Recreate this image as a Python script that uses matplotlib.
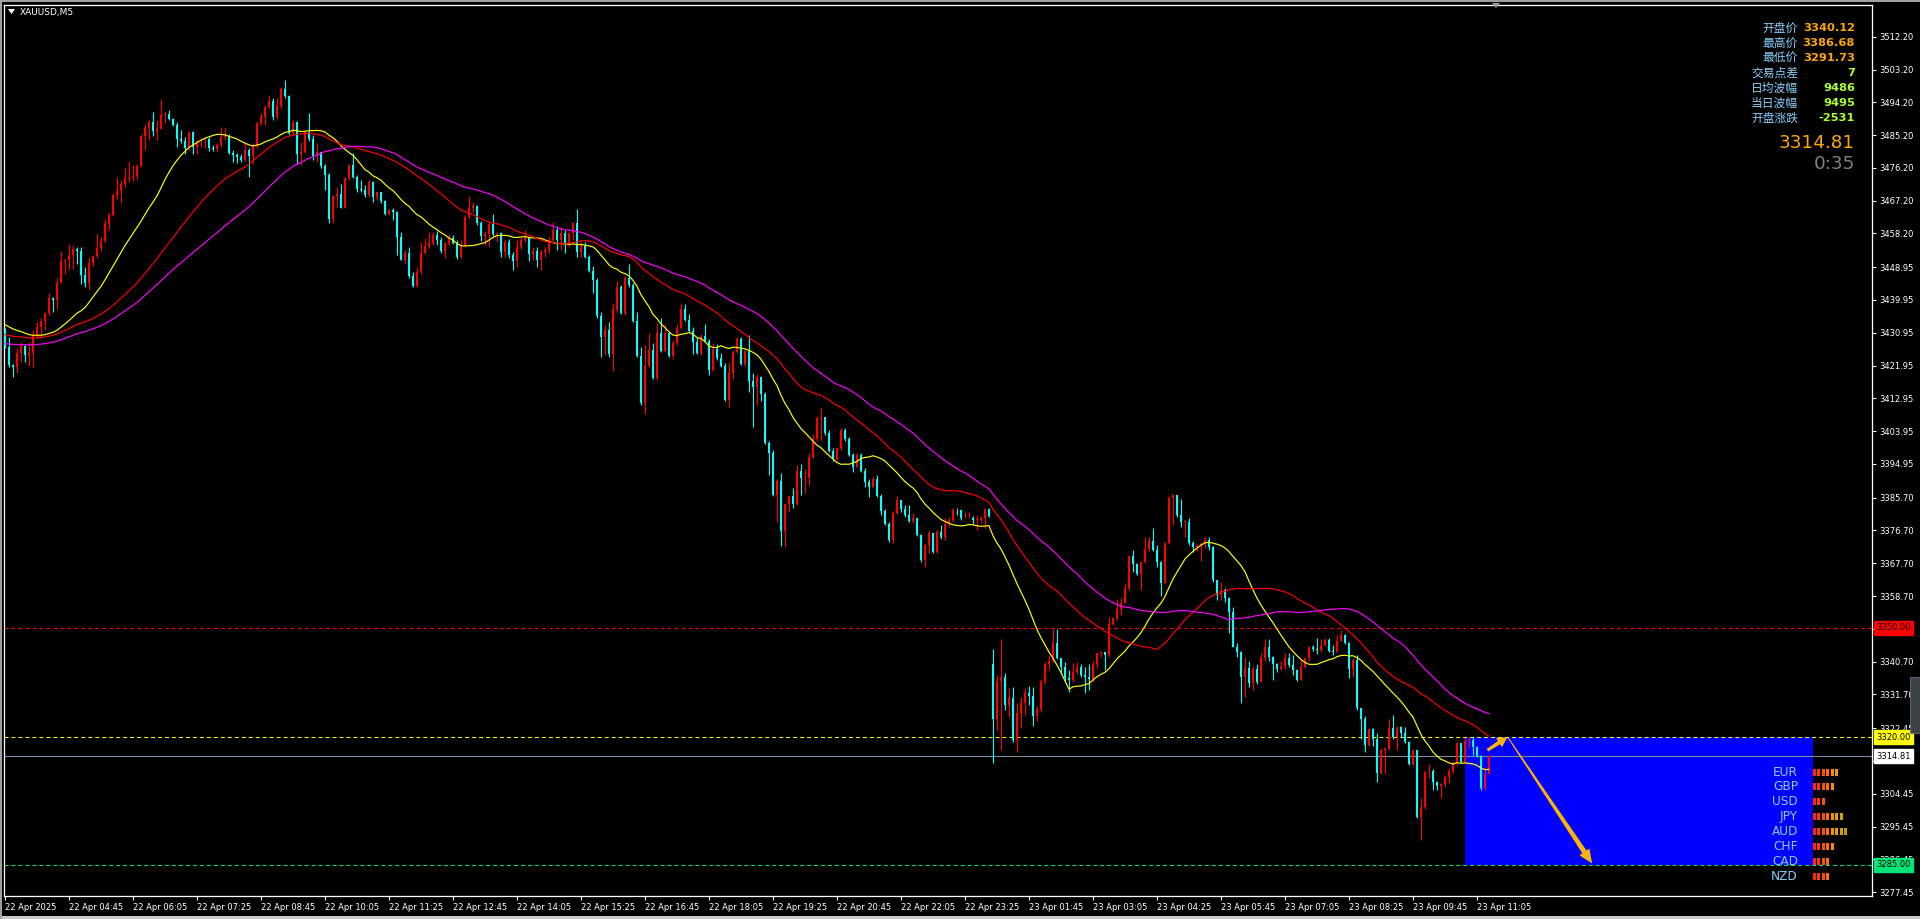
import numpy as np
import matplotlib
matplotlib.use('Agg')
import matplotlib.pyplot as plt
from matplotlib.patches import Rectangle, Polygon
from matplotlib.transforms import IdentityTransform, blended_transform_factory

W, H = 1920, 919

# ---------------- data ----------------
symbol = 'XAUUSD,M5'
first_open = 3431.5
gap_bar = 247          # first bar of the 23 Apr session (gap down)
gap_open = 3340.1

closes = [
    3427, 3422.1, 3421.5, 3425.3, 3427.4, 3424.8, 3425.5, 3430.3, 3432.6, 3434.2,
    3436.3, 3440.4, 3440, 3444.7, 3450.6, 3450.8, 3452.3, 3453.9, 3453.5, 3446.8,
    3444.5, 3450.2, 3452, 3454.1, 3456.2, 3460.8, 3463.3, 3468.7, 3469.8, 3471.7,
    3473.5, 3473.6, 3474, 3476.7, 3485, 3487.1, 3488.9, 3486.3, 3487, 3490.7,
    3491, 3489.5, 3488.1, 3484, 3483.7, 3481.7, 3486, 3482, 3483.5, 3483.9,
    3484.2, 3481.6, 3481.4, 3482.5, 3484.6, 3484.8, 3480.4, 3479.7, 3479.3, 3478.3,
    3481, 3479.5, 3482.5, 3488.4, 3490.1, 3493, 3494.6, 3490.1, 3493.3, 3497.9,
    3495.8, 3485.7, 3488.9, 3479.9, 3480.6, 3486.1, 3484, 3479.5, 3480.5, 3476.6,
    3474.2, 3462.1, 3468.5, 3469, 3465.3, 3473.3, 3477, 3473.8, 3470.3, 3470.1,
    3468.8, 3472.4, 3468.3, 3469.7, 3467, 3463.6, 3464.6, 3464.2, 3457.1, 3450.9,
    3452.9, 3446.5, 3443.8, 3447.7, 3452.9, 3454.7, 3455.7, 3457.8, 3456.4, 3453.5,
    3455.5, 3456.9, 3455.7, 3451.8, 3454.7, 3462.8, 3465.1, 3465.7, 3461.2, 3457.5,
    3458, 3460.7, 3458, 3458.2,
    3453.2, 3455.9, 3452.3, 3450.7, 3454.6, 3456.4, 3457, 3452.7, 3453.4, 3451,
    3453.2, 3453.7, 3456.4, 3459.2, 3456.4, 3458.4, 3455.3, 3458.2, 3461.2, 3453.2,
    3455, 3451.8, 3447.9, 3445.4, 3435.6, 3429.9, 3431.7, 3425.1, 3437.2, 3443.6,
    3436.3, 3445.9, 3444.1, 3434.2, 3424.6, 3411.6, 3421.8, 3426.2, 3418.5, 3430.8,
    3425.9, 3430.8, 3424.6, 3428.1, 3432.4, 3437.6, 3434.5, 3431.5, 3428.5, 3425.3,
    3430, 3428.8, 3420.7, 3426.4, 3424, 3421.8, 3412.5, 3420, 3425.8, 3429.2,
    3422.4, 3425.9, 3417.8, 3416.2, 3418.7, 3414.1, 3400.6, 3397.9, 3386.4, 3390.4,
    3376.6, 3384.1, 3386.2, 3383.9, 3393.1, 3391, 3391, 3396.9, 3401.7, 3407.5,
    3407.8, 3403.5, 3398.6, 3396.2, 3399.2, 3404.4, 3401.7, 3397.4, 3394.2, 3397.4,
    3393.1, 3390.1, 3388.7, 3390.7, 3386.1, 3382.1, 3378.5, 3374.1, 3381.6, 3385,
    3382.5, 3380.9, 3379.4, 3380, 3375.4, 3368.6, 3372.7, 3376.1, 3370.8, 3376.4,
    3374.8, 3378.6, 3379.5, 3382.4, 3382.2, 3380, 3380, 3380.2, 3379.6, 3379.6,
    3380, 3382.5, 3380.8,
    3324.9, 3335.5, 3336.4, 3328.8, 3330.6, 3319.2, 3326.5, 3329.3, 3332, 3331.3,
    3325.8, 3327.6, 3335.2, 3340.1, 3341, 3345.9, 3341.6, 3339.3, 3336.1, 3335.8,
    3338, 3339.3, 3337, 3336.6, 3336, 3340.1, 3343, 3343.3, 3342.5, 3351,
    3352.6, 3355.1, 3356.9, 3360.8, 3369.7, 3367.5, 3364.8, 3368.1, 3371.5, 3373.9,
    3371.3, 3368.1, 3362.2, 3373.2, 3385.5, 3386.4, 3381, 3379.1, 3379.1, 3373.2,
    3372.1, 3372.8, 3373.1, 3374, 3372.1, 3363.1, 3359, 3360.5, 3358.1, 3354.4,
    3344.8, 3343.4, 3336.4, 3338.9, 3334.8, 3338.6, 3335, 3341.6, 3344.6, 3342.1,
    3340, 3338.7, 3339.5, 3341.6, 3339.8, 3338.4, 3335.8, 3339.3, 3341.6, 3344.8,
    3344.3, 3343.9, 3345.3, 3346.6, 3343.7, 3343.4, 3346.5, 3348, 3345.7, 3338.6,
    3341.1, 3327.9, 3325.1, 3317.8, 3322.1, 3319.4, 3310.2, 3316.6, 3316.9, 3322.4,
    3320.1, 3322.7, 3321, 3318.7, 3312.6, 3316.4, 3298, 3300.7, 3310.5, 3310.8,
    3307.8, 3306.6, 3307.1, 3309.1, 3310.8, 3312.8, 3318.3, 3313.2, 3319, 3319.2,
    3317.4, 3314.9, 3305.9, 3310, 3314.81,
]

highs = [
    3432.2, 3429.9, 3422.5, 3426.7, 3428.5, 3427.6, 3428.5, 3431.7, 3434, 3434.9,
    3436.7, 3441.8, 3440.8, 3445.9, 3453.3, 3451.1, 3455.2, 3455, 3454.6, 3454.6,
    3449.1, 3451.8, 3452.3, 3458.1, 3457.3, 3462.1, 3463.7, 3469.2, 3473.6, 3472.9,
    3476.1, 3478.2, 3477, 3477.4, 3485.5, 3488.2, 3489.3, 3491.6, 3489.3, 3495.1,
    3491.8, 3492.1, 3489.8, 3488.9, 3486.6, 3484.8, 3486.4, 3486.4, 3483.8, 3484.5,
    3484.3, 3484.6, 3482.5, 3482.9, 3487.5, 3487.1, 3485.5, 3481.1, 3480.2, 3480,
    3482.9, 3481.6, 3483, 3488.9, 3491.2, 3493.5, 3496.2, 3495.3, 3495.3, 3498.5,
    3500.3, 3496.2, 3489.3, 3489.2, 3483.4, 3486.4, 3491.3, 3485.2, 3483.1, 3480.2,
    3477.3, 3474.9, 3468.7, 3471, 3471.8, 3473.8, 3477.4, 3480.4, 3474.2, 3472.9,
    3471.5, 3472.9, 3472.7, 3469.9, 3469.7, 3467.4, 3464.8, 3465.1, 3464.5, 3458.7,
    3453.7, 3454.6, 3447.7, 3449.1, 3455.9, 3456.9, 3458.7, 3458.7, 3458.9, 3457.3,
    3455.9, 3457.8, 3457.8, 3456.4, 3456.4, 3463.3, 3468.5, 3466.9, 3466, 3461.7,
    3458.9, 3461.4, 3463.5, 3458.7,
    3458.7, 3456.4, 3456.6, 3453.2, 3456.4, 3457.3, 3459.2, 3457.3, 3454.4, 3454.4,
    3453.7, 3454.6, 3457.3, 3461.4, 3460.3, 3460.1, 3459.2, 3458.7, 3461.4, 3464.9,
    3455.9, 3455.9, 3452.3, 3449.3, 3445.9, 3436.7, 3433.1, 3434, 3439, 3445.2,
    3444.1, 3446.5, 3449.8, 3444.5, 3436.7, 3427.1, 3427.6, 3430.8, 3428.1, 3433.7,
    3435.1, 3433.5, 3431.2, 3429, 3433.5, 3439, 3438.8, 3436.1, 3432.6, 3429.9,
    3430.6, 3433.4, 3429.2, 3428.1, 3427.9, 3425.5, 3422.6, 3422.6, 3426.2, 3429.9,
    3429.9, 3426.2, 3430.4, 3420, 3419.6, 3418.9, 3414.8, 3401.3, 3398.8, 3390.7,
    3392.4, 3384.3, 3386.4, 3388.3, 3394.6, 3394.9, 3393.7, 3397.9, 3403.2, 3408.1,
    3410.2, 3407.9, 3404.3, 3399.2, 3399.5, 3404.7, 3404.7, 3402.4, 3398, 3397.9,
    3397.9, 3393.8, 3390.7, 3391.5, 3391.9, 3386.7, 3382.5, 3379.1, 3382.1, 3386.1,
    3385.1, 3383.7, 3383.7, 3381.6, 3380.1, 3375.7, 3373.1, 3376.8, 3375.4, 3376.8,
    3378.2, 3380, 3380.5, 3382.8, 3382.8, 3382.3, 3381.8, 3381.8, 3380.7, 3380.9,
    3380.7, 3382.8, 3382.8,
    3344.3, 3337, 3347, 3337.5, 3333.6, 3333.8, 3329.3, 3331.1, 3333.4, 3334,
    3333.8, 3328.5, 3336, 3340.7, 3342.4, 3349.8, 3349.6, 3341.6, 3340.5, 3338.4,
    3340.4, 3340.7, 3340.2, 3339.3, 3340, 3341, 3343.2, 3343.6, 3343.4, 3353,
    3353, 3357.8, 3358.1, 3362.2, 3370, 3371.3, 3367.7, 3368.4, 3374.8, 3375,
    3377.3, 3372.7, 3368.4, 3373.6, 3386.3, 3386.68, 3386.4, 3385.3, 3379.5, 3380,
    3373.9, 3373, 3373.5, 3375, 3375, 3372.4, 3363.1, 3362.6, 3361, 3358.5,
    3355.6, 3345.7, 3343.6, 3342.1, 3341, 3339.5, 3340, 3343.2, 3346.8, 3346.8,
    3342.3, 3340.4, 3341, 3343.2, 3343, 3342.5, 3338.7, 3341.1, 3342.1, 3345,
    3345.4, 3347.1, 3346.8, 3347.1, 3347.2, 3345.3, 3348, 3349.4, 3348.4, 3346,
    3341.6, 3342.6, 3327.9, 3325.8, 3322.1, 3322.4, 3321, 3316.9, 3317, 3325.1,
    3326, 3322.9, 3323, 3322.8, 3319, 3316.5, 3316.5, 3303.2, 3310.7, 3312.6,
    3311.2, 3308, 3307.5, 3309.6, 3311.4, 3313.5, 3318.7, 3318.5, 3319.7, 3319.9,
    3319.9, 3317.6, 3315.2, 3311.9, 3315.3,
]

lows = [
    3426.7, 3421.6, 3418.7, 3419.8, 3423, 3423, 3421.8, 3421.6, 3429.4, 3429.4,
    3431.7, 3435.8, 3436.7, 3437.6, 3444.5, 3447.2, 3448.2, 3448.5, 3449.8, 3444.3,
    3443.6, 3442.7, 3449.4, 3451.6, 3453.5, 3455.9, 3459.1, 3463, 3467.8, 3466.5,
    3471, 3472.4, 3472.7, 3472.9, 3476.5, 3481.1, 3483.8, 3485, 3483.8, 3486.9,
    3488.4, 3489.3, 3487.8, 3482, 3483, 3479.9, 3481.1, 3479.9, 3480, 3481.8,
    3481.6, 3480.9, 3480.9, 3480.6, 3482, 3483.8, 3479.9, 3477.9, 3477.6, 3477.9,
    3478.2, 3473.8, 3477.4, 3481.6, 3488, 3488, 3492.5, 3489.3, 3489.5, 3492.5,
    3495.3, 3485.2, 3485.2, 3477.4, 3477, 3480.2, 3483.6, 3478.4, 3477.9, 3476.1,
    3470.1, 3461, 3461.2, 3465.6, 3465.1, 3465.1, 3472.9, 3473.3, 3469.7, 3469.7,
    3468.3, 3468.3, 3466.9, 3467.4, 3466.5, 3463.3, 3463.3, 3461.9, 3452.3, 3450.9,
    3450, 3445.9, 3443.4, 3443.6, 3447.2, 3452.7, 3454.1, 3455, 3455, 3452.9,
    3451.6, 3455, 3455.3, 3451.1, 3451.6, 3454.4, 3462.3, 3464.2, 3460.5, 3456.2,
    3455, 3454.6, 3457.6, 3455.9,
    3451.8, 3451.8, 3451.4, 3448.2, 3449.1, 3453.9, 3455.9, 3450.7, 3450.9, 3449.1,
    3448.2, 3451.8, 3452.9, 3455.9, 3453.7, 3453.7, 3452.8, 3454.6, 3456.4, 3451.7,
    3451.8, 3451.4, 3447.5, 3441.8, 3434.9, 3424.4, 3424.9, 3424.4, 3420.6, 3436.7,
    3436.1, 3435.8, 3443.6, 3434, 3424.4, 3411.1, 3408.8, 3421.5, 3418.2, 3418,
    3425.8, 3425.8, 3424.4, 3423.7, 3427.6, 3431.9, 3434.3, 3431.2, 3425.1, 3425.1,
    3424.9, 3428.5, 3419.4, 3420.6, 3423.5, 3421.6, 3412.1, 3410.5, 3418.2, 3425.3,
    3422.1, 3421.8, 3414.8, 3405, 3411.1, 3412.3, 3400.4, 3391.9, 3386.1, 3379.1,
    3372.5, 3372.2, 3381.9, 3382.8, 3383.7, 3386.4, 3387.1, 3389.2, 3396.5, 3401.3,
    3401.5, 3402.9, 3398.3, 3395.8, 3396, 3398.8, 3401.3, 3397.1, 3392.8, 3394,
    3392.8, 3388.7, 3386, 3388.3, 3386, 3380.9, 3378.2, 3373.6, 3373.4, 3381.2,
    3381.8, 3380.5, 3379.1, 3378.8, 3375.2, 3368.1, 3366.7, 3370.4, 3370.6, 3370.4,
    3374.5, 3374, 3377.7, 3379.1, 3380.9, 3379.6, 3380, 3380, 3378.6, 3376.8,
    3379.1, 3377.5, 3380.5,
    3312.8, 3322, 3316.4, 3327.5, 3325.5, 3318.7, 3316, 3322.4, 3326.1, 3328.8,
    3323, 3324.5, 3327, 3334.7, 3338.4, 3340.7, 3341.3, 3337.7, 3335.5, 3332.5,
    3335, 3337.3, 3336.6, 3332, 3333, 3335, 3339, 3342, 3338.4, 3342,
    3350.8, 3352.2, 3353.5, 3356.7, 3360.4, 3365.4, 3364.5, 3360.4, 3367.7, 3371,
    3371.2, 3366.6, 3358.7, 3362.2, 3373, 3378.2, 3380.5, 3377.7, 3375, 3372.7,
    3370.9, 3371, 3368.4, 3372, 3371.3, 3362.7, 3357.6, 3357.6, 3357.2, 3348.5,
    3344.6, 3342, 3329.3, 3331, 3333.8, 3332.9, 3334.5, 3335, 3341, 3341,
    3335.7, 3337.9, 3338.4, 3338.6, 3339.3, 3337, 3335.5, 3335.7, 3338.9, 3341,
    3343.7, 3342.8, 3343.4, 3345, 3343.4, 3342.5, 3343.4, 3346.4, 3345.5, 3336.1,
    3336.6, 3327.4, 3319.4, 3316, 3317.5, 3317.5, 3307.8, 3309.9, 3310, 3316.4,
    3319.6, 3316.6, 3320.1, 3318.5, 3312.3, 3312.3, 3297.8, 3291.73, 3300.4, 3308.7,
    3305.5, 3305.6, 3303.2, 3306.4, 3307.5, 3310.2, 3312.3, 3312.9, 3313, 3316.9,
    3315.1, 3314.5, 3305.5, 3305.6, 3309.9,
]

time_labels = [
    '22 Apr 2025', '22 Apr 04:45', '22 Apr 06:05', '22 Apr 07:25', '22 Apr 08:45',
    '22 Apr 10:05', '22 Apr 11:25', '22 Apr 12:45', '22 Apr 14:05', '22 Apr 15:25',
    '22 Apr 16:45', '22 Apr 18:05', '22 Apr 19:25', '22 Apr 20:45', '22 Apr 22:05',
    '22 Apr 23:25', '23 Apr 01:45', '23 Apr 03:05', '23 Apr 04:25', '23 Apr 05:45',
    '23 Apr 07:05', '23 Apr 08:25', '23 Apr 09:45', '23 Apr 11:05',
]
label_step = 16

price_ticks = [3512.20, 3503.20, 3494.20, 3485.20, 3476.20, 3467.20, 3458.20,
               3448.95, 3439.95, 3430.95, 3421.95, 3412.95, 3403.95, 3394.95,
               3385.70, 3376.70, 3367.70, 3358.70, 3349.70, 3340.70, 3331.70,
               3322.45, 3313.45, 3304.45, 3295.45, 3286.45, 3277.45]

# simple moving averages; seeds stand in for the bars before the visible window
ma_periods = [20, 42, 60]
ma_seeds = [3433.5, 3430.5, 3428.0]
ma_colors = ['#ffff00', '#ff0000', '#ff00ff']

levels = [3350.00, 3320.00, 3285.00]
level_colors = ['#ff0000', '#ffff00', '#00e676']
bid = 3314.81

zone_bars = (365, 452)
zone_prices = (3285.0, 3320.0)
arrow_small = ((370.6, 3316.4), (375.6, 3320.0))
arrow_big = ((375.8, 3319.8), (396.8, 3285.3))

info_labels = ['开盘价', '最高价', '最低价', '交易点差', '日均波幅', '当日波幅', '开盘涨跌']
info_values = ['3340.12', '3386.68', '3291.73', '7', '9486', '9495', '-2531']
info_colors = ['#ffa500'] * 3 + ['#adff2f'] * 4
countdown = '0:35'

currencies = ['EUR', 'GBP', 'USD', 'JPY', 'AUD', 'CHF', 'CAD', 'NZD']
strength = [6, 5, 3, 7, 8, 5, 4, 4]
strength_colors = ['#ff2a00', '#ff3c00', '#ff5000', '#ff6e00', '#ff8c00',
                   '#e6a000', '#c8a800', '#b4a000']


def sma(values, period, seed):
    padded = np.r_[np.full(period - 1, seed), values]
    return np.convolve(padded, np.ones(period) / period, mode='valid')


def px(x, y):
    # figure pixel (from top-left) -> figure fraction
    return x / W, 1 - y / H


def taper_arrow(ax, p0, p1, w0, w1, head_w, head_len, color):
    (x0, y0), (x1, y1) = ax.transData.transform([p0, p1])
    d = np.array([x1 - x0, y1 - y0])
    u = d / np.hypot(*d)
    n = np.array([-u[1], u[0]])
    a, b = np.array([x0, y0]), np.array([x1, y1])
    base = b - u * head_len
    pts = [a + n * w0 / 2, base + n * w1 / 2, base + n * head_w / 2, b,
           base - n * head_w / 2, base - n * w1 / 2, a - n * w0 / 2]
    ax.add_artist(Polygon(pts, closed=True, transform=IdentityTransform(),
                          fc=color, ec='none', zorder=6, clip_on=False))


# ---------------- candles ----------------
c = np.array(closes)
o = np.empty_like(c)
o[0] = first_open
o[1:] = c[:-1]
o[gap_bar] = gap_open
h = np.maximum(np.array(highs), np.maximum(o, c))
l = np.minimum(np.array(lows), np.minimum(o, c))
x = np.arange(len(c))
cols = np.where(c >= o, '#ff0000', '#00ffff')

fig = plt.figure(figsize=(W / 100, H / 100), dpi=100, facecolor='black')
ax = fig.add_axes([4 / W, 23 / H, 1868 / W, 891 / H])
ax.set_facecolor('black')
ax.set_xlim(-0.25, 466.75)
ax.set_ylim(3276.4, 3520.9)
for s in ax.spines.values():
    s.set_color('white')
    s.set_linewidth(0.9)

ax.vlines(x, l, h, colors=cols, lw=0.8, zorder=3)
ax.bar(x, np.maximum(np.abs(c - o), 0.25), bottom=np.minimum(o, c), width=0.72,
       color=cols, linewidth=0, zorder=3)

for per, seed, col in zip(ma_periods, ma_seeds, ma_colors):
    ax.plot(x, sma(c, per, seed), color=col, lw=0.85, zorder=4)

# zone + horizontal levels
ax.add_patch(Rectangle((zone_bars[0], zone_prices[0]), zone_bars[1] - zone_bars[0],
                       zone_prices[1] - zone_prices[0], fc='#0000ff', ec='none', zorder=1))
for lvl, col in zip(levels, level_colors):
    ax.axhline(lvl, color=col, lw=0.75, dashes=(3.8, 2.9), zorder=2)
ax.axhline(bid, color='#7f8a96', lw=0.8, zorder=2)

# arrows
taper_arrow(ax, *arrow_small, w0=3, w1=4, head_w=11, head_len=10, color='#ffb400')
taper_arrow(ax, *arrow_big, w0=1, w1=5, head_w=12, head_len=14, color='#ffb400')

# axes ticks
ax.yaxis.tick_right()
ax.set_yticks(price_ticks)
ax.set_yticklabels([f'{p:.2f}' for p in price_ticks])
ax.set_xticks(np.arange(len(time_labels)) * label_step)
ax.set_xticklabels(time_labels)
ax.tick_params(axis='y', colors='white', labelsize=6, length=3, width=0.8, pad=2)
ax.tick_params(axis='x', colors='white', labelsize=6, length=3, width=0.8, pad=2)
for t in ax.get_xticklabels():
    t.set_horizontalalignment('left')

tr = blended_transform_factory(ax.transAxes, ax.transData)
for lvl, col in list(zip(levels, level_colors)) + [(bid, '#ffffff')]:
    ax.text(1 + 4 / 1868, lvl, f'{lvl:.2f}', transform=tr, ha='left', va='center',
            fontsize=6, color='black', clip_on=False, zorder=10,
            bbox=dict(boxstyle='square,pad=0.3', fc=col, ec=col))

# title
fig.add_artist(Polygon([(8, H - 9), (15, H - 9), (11.5, H - 14)], closed=True,
                       transform=IdentityTransform(), fc='white', ec='none'))
fig.text(*px(20, 12), symbol, color='white', fontsize=6.5, va='center', ha='left')
# chart shift marker
fig.add_artist(Polygon([(1492, H - 3), (1500, H - 3), (1496, H - 8)], closed=True,
                       transform=IdentityTransform(), fc='#9a9a9a', ec='none'))

# info panel
for k, (lab, val, col) in enumerate(zip(info_labels, info_values, info_colors)):
    y = 28 + 15 * k
    fig.text(*px(1798, y), lab, color='#87cefa', fontsize=8.5, ha='right', va='center',
             family=['Noto Sans CJK SC', 'DejaVu Sans'])
    fig.text(*px(1855, y), val, color=col, fontsize=8.2, ha='right', va='center',
             fontweight='bold')
fig.text(*px(1855, 143), f'{c[-1]:.2f}', color='#ffa500', fontsize=13.2, ha='right', va='center')
fig.text(*px(1855, 164), countdown, color='#808080', fontsize=13.2, ha='right', va='center')

# currency strength panel
for k, (cur, n) in enumerate(zip(currencies, strength)):
    y = 772 + 14.9 * k
    fig.text(*px(1798, y), cur, color='#87cefa', fontsize=8.7, ha='right', va='center', zorder=8)
    for j in range(n):
        fig.add_artist(Rectangle((1813 + 4.45 * j, H - y - 3.5), 3, 7,
                                 transform=IdentityTransform(),
                                 fc=strength_colors[j], ec='none', zorder=8))

# window frame bits
fig.add_artist(Rectangle((0, 0), W, 3, transform=IdentityTransform(), fc='#c8c8c8', ec='none'))
fig.add_artist(Rectangle((0, H - 2), W, 2, transform=IdentityTransform(), fc='#a0a0a0', ec='none'))
fig.add_artist(Rectangle((0, 0), 2, H, transform=IdentityTransform(), fc='#a0a0a0', ec='none'))
fig.add_artist(Rectangle((1910, H - 733), 10, 56, transform=IdentityTransform(),
                         fc='#3c4248', ec='#6a7078', lw=0.6))

fig.savefig('out.png', dpi=100, facecolor='black')
